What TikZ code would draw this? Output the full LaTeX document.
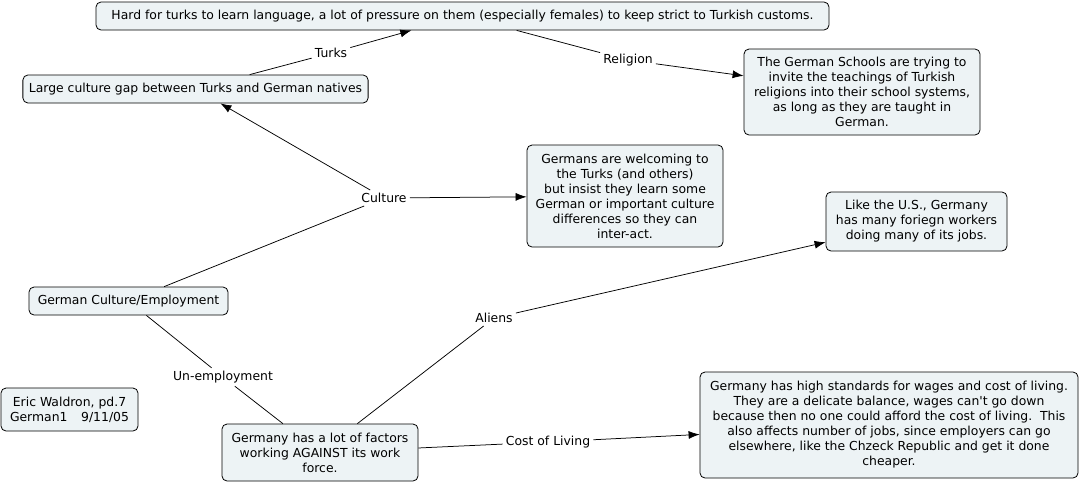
\documentclass[tikz,border=0pt]{standalone}
\usepackage{fontspec}
\setmainfont{DejaVu Sans}[Ligatures=TeXOff]
\usetikzlibrary{arrows.meta}
\definecolor{boxfill}{RGB}{237,243,245}
\begin{document}
\begin{tikzpicture}
	[x=1pt,y=-1pt,font=\fontsize{12.4}{15}\selectfont,
	box/.style={draw=black,line width=0.8pt,rounded corners=5pt,fill=boxfill,align=center,inner xsep=6pt,inner ysep=4pt},
	lbl/.style={inner sep=3pt},
	link/.style={line width=0.75pt},
	>={Latex[length=11pt,width=8pt]}]
	\useasboundingbox (0,0) rectangle (1082,483);
	% concepts
	\node[box,name=lang,minimum width=733pt,minimum height=28pt] at (462.5,16) {Hard for turks to learn language, a lot of pressure on them (especially females) to keep strict to Turkish customs.};
	\node[box,name=gap,minimum width=345pt,minimum height=28pt] at (195.5,89) {Large culture gap between Turks and German natives};
	\node[box,name=school,minimum width=236pt,minimum height=86pt] at (862,92) {The German Schools are trying to\\invite the teachings of Turkish\\religions into their school systems,\\as long as they are taught in\\German.};
	\node[box,name=welcome,minimum width=196pt,minimum height=102pt] at (625,196) {Germans are welcoming to\\the Turks (and others)\\but insist they learn some\\German or important culture\\differences so they can\\inter-act.};
	\node[box,name=us,minimum width=181pt,minimum height=59pt] at (916.5,221.5) {Like the U.S., Germany\\has many foriegn workers\\doing many of its jobs.};
	\node[box,name=gce,minimum width=199pt,minimum height=28pt] at (128.5,301) {German Culture/Employment};
	\node[box,name=eric,minimum width=137pt,minimum height=43pt] at (69.5,409.5) {Eric Waldron, pd.7\\German1\hspace{1.1em}9/11/05};
	\node[box,name=factors,minimum width=196pt,minimum height=57pt] at (320,452.5) {Germany has a lot of factors\\working AGAINST its work\\force.};
	\node[box,name=wages,minimum width=378pt,minimum height=106pt] at (889,425) {Germany has high standards for wages and cost of living.\\They are a delicate balance, wages can't go down\\because then no one could afford the cost of living.\ \ This\\also affects number of jobs, since employers can go\\elsewhere, like the Chzeck Republic and get it done\\cheaper.};
	% linking phrases
	\node[lbl,name=turks] at (331,53) {Turks};
	\node[lbl,name=religion] at (628,60) {Religion};
	\node[lbl,name=culture] at (384,198) {Culture};
	\node[lbl,name=aliens] at (494,318) {Aliens};
	\node[lbl,name=unemp] at (223,377) {Un-employment};
	\node[lbl,name=cost] at (548,442) {Cost of Living};
	% connections
	\draw[link](gap) -- (turks);
	\draw[link,->](turks) -- (lang);
	\draw[link](lang) -- (religion);
	\draw[link,->](religion) -- (school);
	\draw[link](gce) -- (culture);
	\draw[link,->](culture) -- (gap);
	\draw[link,->](culture) -- (welcome);
	\draw[link](gce) -- (unemp);
	\draw[link](unemp) -- (factors);
	\draw[link](factors) -- (aliens);
	\draw[link,->](aliens) -- (us);
	\draw[link](factors) -- (cost);
	\draw[link,->](cost) -- (wages);
\end{tikzpicture}
\end{document}
